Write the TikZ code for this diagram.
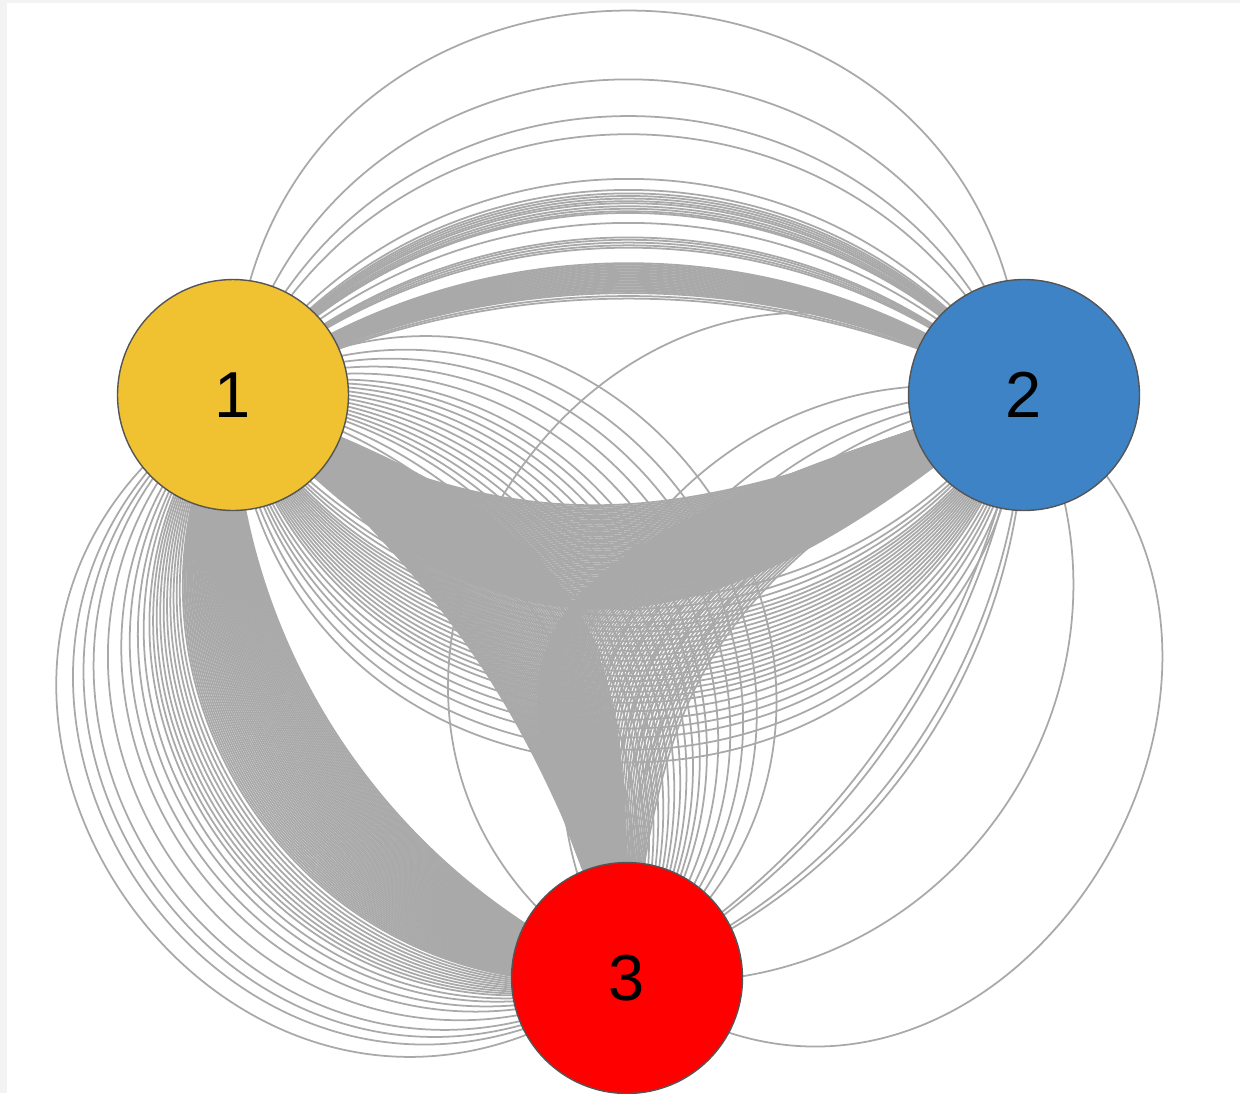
\documentclass[tikz,border=0pt]{standalone}
\usepackage{fontspec}
\setmainfont{Liberation Sans}
\usetikzlibrary{calc}
\pgfdeclarelayer{background}
\pgfsetlayers{background,main}
\definecolor{edgegray}{HTML}{A9A9A9}
\definecolor{nodeyellow}{HTML}{F0C232}
\definecolor{nodeblue}{HTML}{3D83C6}
\definecolor{nodered}{HTML}{FF0000}
\definecolor{noderim}{HTML}{555555}
\definecolor{stripgray}{HTML}{F3F3F3}
\begin{document}
\begin{tikzpicture}[x=0.02cm, y=-0.02cm,
  edge/.style={draw=edgegray, line width=1pt},
  vertex/.style={circle, draw=noderim, line width=0.8pt, minimum size=4.62cm, inner sep=0pt, font=\fontsize{37}{40}\selectfont}]
\useasboundingbox (0,0) rectangle (1240,1093);
\node[vertex, fill=nodeyellow] (n1) at (233,395) {1};
\node[vertex, fill=nodeblue] (n2) at (1024,395) {2};
\node[vertex, fill=nodered] (n3) at (627,978) {3};
\begin{pgfonlayer}{background}
\fill[white] (0,0) rectangle (1240,1093);
\fill[stripgray] (0,0) rectangle (7,1093);
\fill[stripgray] (0,0) rectangle (1240,3);
% 1-2 above
\foreach \t [evaluate=\t as \L using 1.703/(1+cos(\t))] in {88.6,77.4,70.6,67,57.5,55,54.2,53.6,53,52.4,51.9,51.2,50.6,50,49.6,47.2,43.6,43,42.3,41.6,41,37,36.6,36.2,35.8,35.4,35,34.6,34.2,33.8,33.4,33,32.6,32.2,31.8,31.4,31,30.6,30.2,29.8,29.4,29,28.2,27.5}
  \draw[edge] (n1.center) to[bend left=\t, looseness=\L] (n2.center);
% 1-2 below
\foreach \t [evaluate=\t as \L using 1.703/(1+cos(\t))] in {55,57,58.5,60,61,62,63,64,65,66,67,68,69,70,71,72,73,74,75,76,77.5,79,80.5,82,84,86}
  \draw[edge] (n1.center) to[bend right=\t, looseness=\L] (n2.center);
% 1-3 outer
\foreach \t [evaluate=\t as \L using 1.703/(1+cos(\t))] in {33,33.5,...,63,64,65,66,67,68,69,70,71,72,73,74.5,76,78,80,83,86,88,90,93}
  \draw[edge] (n1.center) to[bend right=\t, looseness=\L] (n3.center);
% 1-3 inner
\foreach \t [evaluate=\t as \L using 1.703/(1+cos(\t))] in {40,44,47,50,52,54,56,58,60,62,64,66,68,70,72,75,78,81,84,88}
  \draw[edge] (n1.center) to[bend left=\t, looseness=\L] (n3.center);
% 2-3 inner
\foreach \t [evaluate=\t as \L using 1.703/(1+cos(\t))] in {40,45,50,55,60,68,93.6}
  \draw[edge] (n2.center) to[bend right=\t, looseness=\L] (n3.center);
% 2-3 outer
\foreach \t [evaluate=\t as \L using 1.703/(1+cos(\t))] in {25,27,34,36,63}
  \draw[edge] (n2.center) to[bend left=\t, looseness=\L] (n3.center);
\draw[edge] (n2.center) .. controls (1377,641) and (985,1250) .. (n3.center);
% central bundles
\foreach \i in {0,...,60}{
  \pgfmathsetmacro{\pa}{28+20*\i/60}
  \pgfmathsetmacro{\pb}{180-(20+20*\i/60)}
  \pgfmathsetmacro{\la}{360+50*\i/60}
  \draw[edge] (n1.center) .. controls ($(n1.center)+(\pa:\la)$) and ($(n2.center)+(\pb:\la)$) .. (n2.center);
}
\foreach \i in {0,...,60}{
  \pgfmathsetmacro{\pa}{20+22*\i/60}
  \pgfmathsetmacro{\la}{420-120*\i/60}
  \pgfmathsetmacro{\pb}{270-(20*\i/60)}
  \pgfmathsetmacro{\lb}{340-40*\i/60}
  \draw[edge] (n1.center) .. controls ($(n1.center)+(\pa:\la)$) and ($(n3.center)+(\pb:\lb)$) .. (n3.center);
}
\foreach \i in {0,...,60}{
  \pgfmathsetmacro{\w}{(\i/60)^1.5}
  \pgfmathsetmacro{\pa}{180-(17+15*\w)}
  \pgfmathsetmacro{\la}{620-220*\w}
  \pgfmathsetmacro{\pb}{270-(22-30*\w)}
  \pgfmathsetmacro{\lb}{350-50*\w}
  \draw[edge] (n2.center) .. controls ($(n2.center)+(\pa:\la)$) and ($(n3.center)+(\pb:\lb)$) .. (n3.center);
}
\end{pgfonlayer}
\end{tikzpicture}
\end{document}
